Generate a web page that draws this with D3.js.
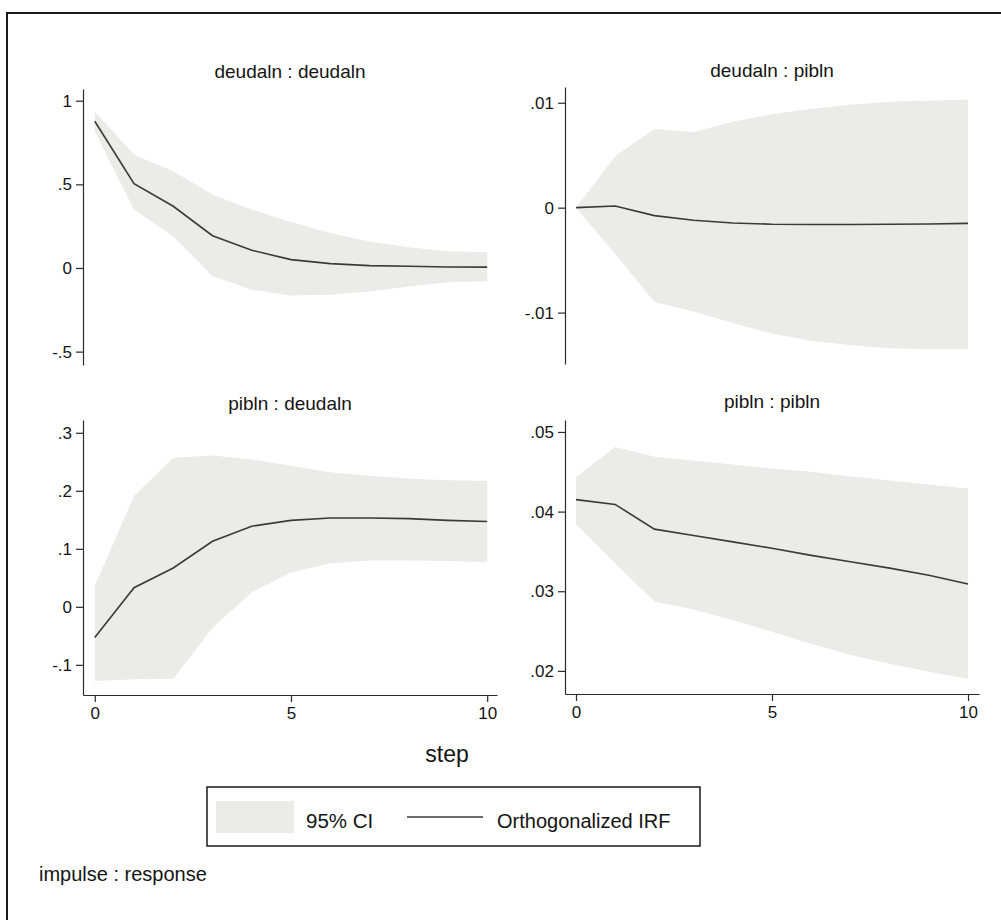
<!DOCTYPE html>
<html>
<head>
<meta charset="utf-8">
<script src="https://cdn.jsdelivr.net/npm/d3@7"></script>
<style>
  body { margin: 0; background: #fff; }
  svg text { font-family: "Liberation Sans", Arial, Helvetica, sans-serif; fill: #141414; }
</style>
</head>
<body>
<div id="chart"></div>
<script>
// steps (x values, shared by all panels)
const steps = [0, 1, 2, 3, 4, 5, 6, 7, 8, 9, 10];

// deudaln : deudaln
const irfDD = [0.877, 0.504, 0.369, 0.193, 0.106, 0.050, 0.026, 0.014, 0.010, 0.006, 0.005];
const loDD  = [0.817, 0.349, 0.190, -0.050, -0.130, -0.165, -0.160, -0.140, -0.110, -0.086, -0.080];
const hiDD  = [0.936, 0.677, 0.578, 0.438, 0.349, 0.275, 0.209, 0.159, 0.124, 0.100, 0.094];

// deudaln : pibln
const irfDP = [0, 0.00016, -0.00076, -0.0012, -0.00146, -0.00158, -0.0016, -0.0016, -0.00158, -0.00155, -0.0015];
const loDP  = [0, -0.0044, -0.0090, -0.0099, -0.0110, -0.0120, -0.0127, -0.0131, -0.0134, -0.0135, -0.0135];
const hiDP  = [0, 0.0049, 0.0075, 0.0072, 0.0082, 0.0089, 0.0094, 0.0098, 0.0101, 0.0102, 0.0103];

// pibln : deudaln
const irfPD = [-0.053, 0.033, 0.067, 0.113, 0.139, 0.149, 0.153, 0.153, 0.152, 0.149, 0.147];
const loPD  = [-0.128, -0.125, -0.124, -0.036, 0.025, 0.059, 0.075, 0.080, 0.080, 0.079, 0.077];
const hiPD  = [0.036, 0.191, 0.257, 0.261, 0.254, 0.243, 0.232, 0.226, 0.221, 0.218, 0.217];

// pibln : pibln
const irfPP = [0.0415, 0.0409, 0.0378, 0.0370, 0.0362, 0.0354, 0.0345, 0.0337, 0.0329, 0.0320, 0.0309];
const loPP  = [0.0384, 0.0335, 0.0287, 0.0277, 0.0264, 0.0249, 0.0234, 0.0220, 0.0209, 0.0199, 0.0190];
const hiPP  = [0.0443, 0.0481, 0.0469, 0.0464, 0.0459, 0.0454, 0.0450, 0.0444, 0.0439, 0.0434, 0.0429];

// tick values and labels
const xTicks = [0, 5, 10];
const yTicksDD = [-0.5, 0, 0.5, 1],      yLabelsDD = ["-.5", "0", ".5", "1"];
const yTicksDP = [-0.01, 0, 0.01],       yLabelsDP = ["-.01", "0", ".01"];
const yTicksPD = [-0.1, 0, 0.1, 0.2, 0.3], yLabelsPD = ["-.1", "0", ".1", ".2", ".3"];
const yTicksPP = [0.02, 0.03, 0.04, 0.05], yLabelsPP = [".02", ".03", ".04", ".05"];

const titles = ["deudaln : deudaln", "deudaln : pibln", "pibln : deudaln", "pibln : pibln"];
const legendLabels = ["95% CI", "Orthogonalized IRF"];

const bandColor = "#ebebe8";
const lineColor = "#3a3a3a";

const width = 1001, height = 920;
const svg = d3.select("#chart").append("svg")
  .attr("width", width)
  .attr("height", height);

// outer frame (right and bottom edges are cut off in the original)
svg.append("rect")
  .attr("x", 7).attr("y", 13)
  .attr("width", 1100).attr("height", 1000)
  .attr("fill", "none")
  .attr("stroke", "#1a1a1a")
  .attr("stroke-width", 2);

// panel layout
const panels = [
  { title: titles[0], irf: irfDD, lo: loDD, hi: hiDD, yDom: [-0.58, 1.07], yTicks: yTicksDD, yLabels: yLabelsDD,
    left: 83, right: 497, top: 89, bottom: 365, xDom: [-0.3, 10.25], titleY: 78, xAxis: false },
  { title: titles[1], irf: irfDP, lo: loDP, hi: hiDP, yDom: [-0.0149, 0.0115], yTicks: yTicksDP, yLabels: yLabelsDP,
    left: 565, right: 979, top: 87, bottom: 364, xDom: [-0.28, 10.28], titleY: 77, xAxis: false },
  { title: titles[2], irf: irfPD, lo: loPD, hi: hiPD, yDom: [-0.152, 0.322], yTicks: yTicksPD, yLabels: yLabelsPD,
    left: 83, right: 497, top: 420, bottom: 695, xDom: [-0.3, 10.25], titleY: 410, xAxis: true },
  { title: titles[3], irf: irfPP, lo: loPP, hi: hiPP, yDom: [0.0171, 0.0515], yTicks: yTicksPP, yLabels: yLabelsPP,
    left: 565, right: 979, top: 420, bottom: 694, xDom: [-0.28, 10.28], titleY: 408, xAxis: true }
];

panels.forEach(p => {
  const x = d3.scaleLinear().domain(p.xDom).range([p.left, p.right]);
  const y = d3.scaleLinear().domain(p.yDom).range([p.bottom, p.top]);
  const g = svg.append("g");

  // CI band
  const area = d3.area()
    .x((d, i) => x(steps[i]))
    .y0((d, i) => y(p.lo[i]))
    .y1((d, i) => y(p.hi[i]));
  g.append("path")
    .datum(p.irf)
    .attr("d", area)
    .attr("fill", bandColor);

  // IRF line
  const line = d3.line()
    .x((d, i) => x(steps[i]))
    .y(d => y(d));
  g.append("path")
    .datum(p.irf)
    .attr("d", line)
    .attr("fill", "none")
    .attr("stroke", lineColor)
    .attr("stroke-width", 1.6);

  // Y axis
  const yAxis = d3.axisLeft(y)
    .tickValues(p.yTicks)
    .tickFormat((d, i) => p.yLabels[i])
    .tickSize(7)
    .tickSizeOuter(0)
    .tickPadding(4);
  const ya = g.append("g")
    .attr("transform", "translate(" + p.left + ",0)")
    .call(yAxis);
  ya.selectAll("path, line").attr("stroke", "#2a2a2a").attr("stroke-width", 1.2);
  ya.selectAll("text").style("font-size", "17px").attr("fill", "#141414");

  // X axis (bottom row only)
  if (p.xAxis) {
    const xAxis = d3.axisBottom(x)
      .tickValues(xTicks)
      .tickSize(7)
      .tickSizeOuter(0)
      .tickPadding(5);
    const xa = g.append("g")
      .attr("transform", "translate(0," + p.bottom + ")")
      .call(xAxis);
    xa.selectAll("path, line").attr("stroke", "#2a2a2a").attr("stroke-width", 1.2);
    xa.selectAll("text").style("font-size", "17px").attr("fill", "#141414");
  }

  // panel title
  g.append("text")
    .attr("x", (p.left + p.right) / 2)
    .attr("y", p.titleY)
    .attr("text-anchor", "middle")
    .style("font-size", "19px")
    .text(p.title);
});

// x title
svg.append("text")
  .attr("x", 447)
  .attr("y", 762)
  .attr("text-anchor", "middle")
  .style("font-size", "23px")
  .text("step");

// legend
const lg = svg.append("g");
lg.append("rect")
  .attr("x", 207).attr("y", 787)
  .attr("width", 493).attr("height", 59)
  .attr("fill", "#fff")
  .attr("stroke", "#1a1a1a")
  .attr("stroke-width", 1.5);
lg.append("rect")
  .attr("x", 216).attr("y", 801)
  .attr("width", 78).attr("height", 32)
  .attr("fill", bandColor);
lg.append("text")
  .attr("x", 306).attr("y", 828)
  .style("font-size", "20.5px")
  .text(legendLabels[0]);
lg.append("line")
  .attr("x1", 407).attr("x2", 483)
  .attr("y1", 817).attr("y2", 817)
  .attr("stroke", lineColor)
  .attr("stroke-width", 1.6);
lg.append("text")
  .attr("x", 497).attr("y", 828)
  .style("font-size", "20px")
  .text(legendLabels[1]);

// note
svg.append("text")
  .attr("x", 39)
  .attr("y", 881)
  .style("font-size", "20px")
  .text("impulse : response");
</script>
</body>
</html>
